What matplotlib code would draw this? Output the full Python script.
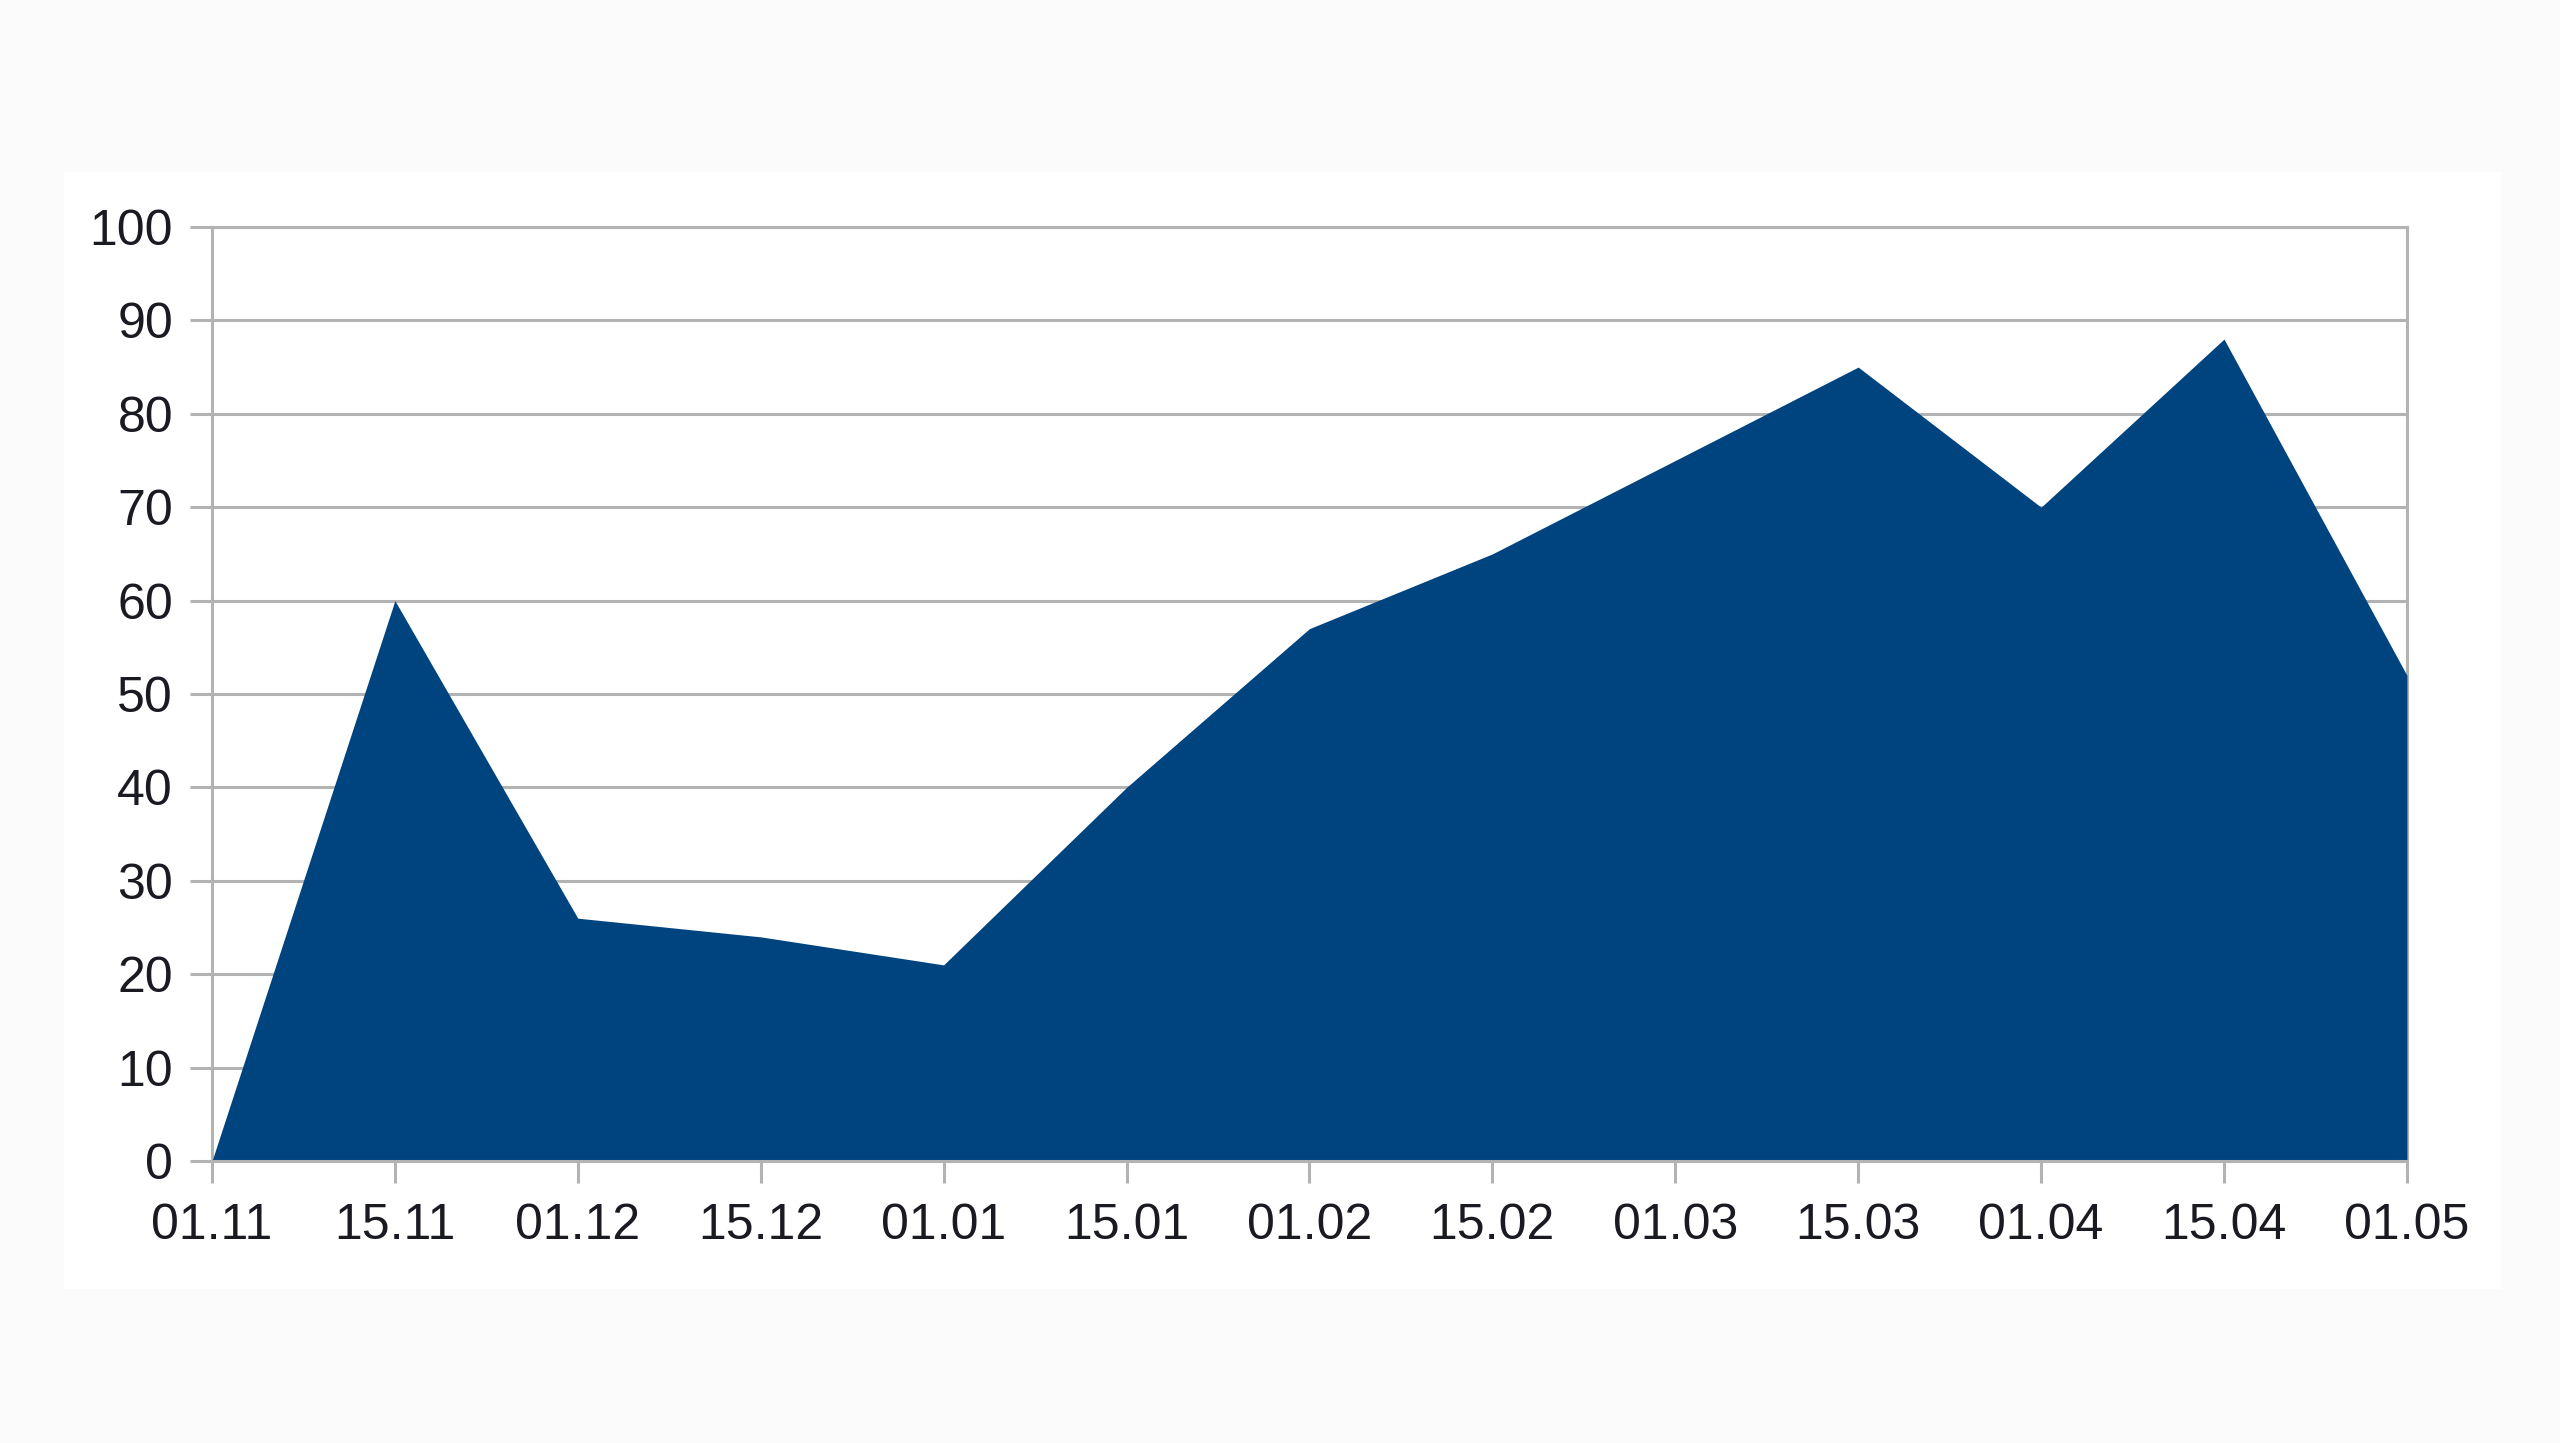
import matplotlib
matplotlib.use('Agg')
import matplotlib.pyplot as plt
from matplotlib.patches import Rectangle

# dates along the x axis and the values of the area series
dates = ['01.11', '15.11', '01.12', '15.12', '01.01', '15.01', '01.02',
         '15.02', '01.03', '15.03', '01.04', '15.04', '01.05']
values = [0, 60, 26, 24, 21, 40, 57, 65, 75, 85, 70, 88, 52]
y_ticks = [0, 10, 20, 30, 40, 50, 60, 70, 80, 90, 100]

fill_color = '#00447f'
grid_color = '#b3b3b3'
text_color = '#1a1a22'

plt.rcParams['font.family'] = ['Liberation Sans', 'DejaVu Sans']

fig = plt.figure(figsize=(25.6, 14.43), dpi=100, facecolor='#fbfbfb')
# white panel behind the chart
fig.patches.append(Rectangle((0.025, 0.107), 0.952, 0.774, transform=fig.transFigure,
                             facecolor='white', edgecolor='none', zorder=-5))

ax = fig.add_axes([0.0828, 0.1954, 0.8574, 0.6473])
ax.set_zorder(2)
ax.set_facecolor('white')

x = list(range(len(dates)))
ax.fill_between(x, values, 0, color=fill_color, linewidth=0, zorder=3)

ax.set_xlim(0, len(dates) - 1)
ax.set_ylim(0, 100)
ax.set_xticks(x)
ax.set_xticklabels(dates)
ax.set_yticks(y_ticks)

# horizontal grid lines only
ax.yaxis.grid(True, color=grid_color, linewidth=2.2, zorder=1)
ax.xaxis.grid(False)
ax.set_axisbelow(True)

for side in ['left', 'bottom', 'right', 'top']:
    ax.spines[side].set_color(grid_color)
    ax.spines[side].set_linewidth(2.2)
ax.spines['bottom'].set_zorder(4)

ax.tick_params(axis='both', direction='out', length=16, width=2.2, color=grid_color,
               labelsize=36, labelcolor=text_color)
ax.tick_params(axis='y', pad=12)
ax.tick_params(axis='x', pad=14)

fig.savefig('out.png', dpi=100, facecolor=fig.get_facecolor())
